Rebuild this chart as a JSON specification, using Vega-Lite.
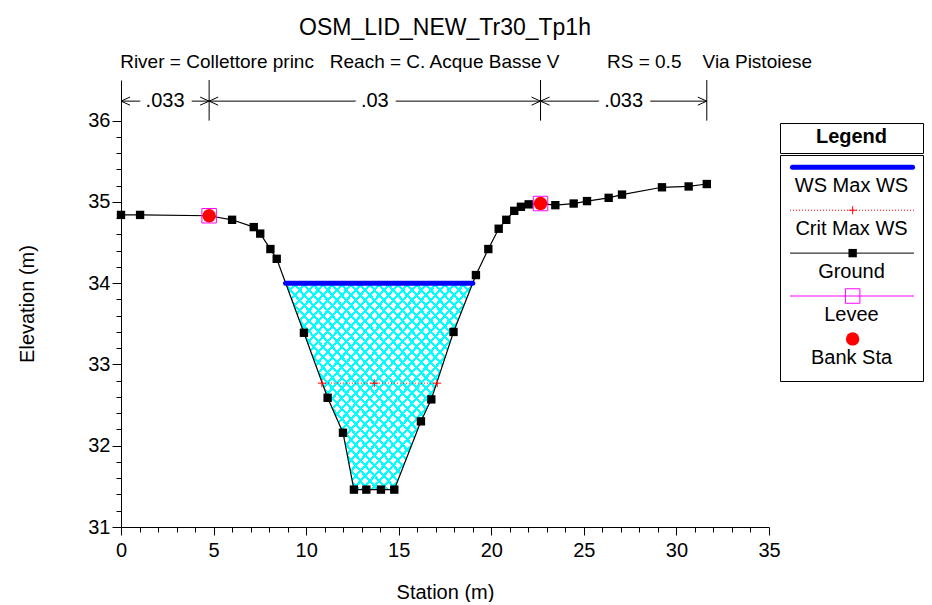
{
  "$schema": "https://vega.github.io/schema/vega-lite/v6.json",
  "padding": {"left": 17, "top": 16, "right": 0, "bottom": 0},
  "background": "white",
  "config": {
    "font": "Liberation Sans",
    "view": {"stroke": null},
    "axis": {"grid": false, "domainColor": "black", "tickColor": "black", "labelColor": "black", "titleColor": "black", "labelFont": "Liberation Sans", "titleFont": "Liberation Sans", "titleFontWeight": "normal", "labelFontSize": 20, "titleFontSize": 20, "domainWidth": 1, "tickWidth": 1}
  },
  "datasets": {
    "ground": [
      {"s": 0, "e": 34.84}, {"s": 1.03, "e": 34.84}, {"s": 4.76, "e": 34.83}, {"s": 6.0, "e": 34.78},
      {"s": 7.17, "e": 34.69}, {"s": 7.52, "e": 34.61}, {"s": 8.07, "e": 34.42}, {"s": 8.41, "e": 34.30},
      {"s": 9.88, "e": 33.39}, {"s": 11.16, "e": 32.59}, {"s": 11.99, "e": 32.16}, {"s": 12.58, "e": 31.46},
      {"s": 13.25, "e": 31.46}, {"s": 14.04, "e": 31.46}, {"s": 14.76, "e": 31.46}, {"s": 16.20, "e": 32.30},
      {"s": 16.76, "e": 32.57}, {"s": 17.96, "e": 33.40}, {"s": 19.17, "e": 34.10}, {"s": 19.84, "e": 34.42},
      {"s": 20.40, "e": 34.67}, {"s": 20.81, "e": 34.78}, {"s": 21.24, "e": 34.89}, {"s": 21.60, "e": 34.94},
      {"s": 22.02, "e": 34.97}, {"s": 22.66, "e": 34.98}, {"s": 23.46, "e": 34.96}, {"s": 24.45, "e": 34.98},
      {"s": 25.17, "e": 35.01}, {"s": 26.34, "e": 35.05}, {"s": 27.06, "e": 35.09}, {"s": 29.22, "e": 35.18},
      {"s": 30.66, "e": 35.19}, {"s": 31.64, "e": 35.22}
    ],
    "water": [
      {"s": 8.89, "e": 34.0}, {"s": 9.88, "e": 33.39}, {"s": 11.16, "e": 32.59}, {"s": 11.99, "e": 32.16},
      {"s": 12.58, "e": 31.46}, {"s": 13.25, "e": 31.46}, {"s": 14.04, "e": 31.46}, {"s": 14.76, "e": 31.46},
      {"s": 16.20, "e": 32.30}, {"s": 16.76, "e": 32.57}, {"s": 17.96, "e": 33.40}, {"s": 19.0, "e": 34.0}
    ],
    "ws": [{"s": 8.89, "s2": 19.0, "e": 34.0}],
    "crit": [{"s": 10.85, "e": 32.77}, {"s": 13.68, "e": 32.77}, {"s": 17.08, "e": 32.77}],
    "banks": [{"s": 4.76, "e": 34.83}, {"s": 22.66, "e": 34.98}],
    "sections": [
      {"s": 0, "s2": 4.76, "mid": 2.38, "n": ".033"},
      {"s": 4.76, "s2": 22.66, "mid": 13.71, "n": ".03"},
      {"s": 22.66, "s2": 31.64, "mid": 27.15, "n": ".033"}
    ],
    "legend": [
      {"row": 1, "item": "WS Max WS"},
      {"row": 2, "item": "Crit Max WS"},
      {"row": 3, "item": "Ground"},
      {"row": 4, "item": "Levee"},
      {"row": 5, "item": "Bank Sta"}
    ]
  },
  "bounds": "flush",
  "spacing": 11,
  "hconcat": [
    {
      "width": 648,
      "height": 447,
      "title": {
        "text": "OSM_LID_NEW_Tr30_Tp1h",
        "subtitle": "\u200b\u00a0\u00a0\u00a0\u00a0\u00a0\u00a0\u00a0\u00a0River = Collettore princ\u00a0\u00a0\u00a0Reach = C. Acque Basse V\u00a0\u00a0\u00a0\u00a0\u00a0\u00a0\u00a0\u00a0\u00a0RS = 0.5\u00a0\u00a0\u00a0\u00a0Via Pistoiese",
        "anchor": "middle", "frame": "group",
        "font": "Liberation Sans", "fontSize": 23, "fontWeight": "normal", "color": "black",
        "subtitleFont": "Liberation Sans", "subtitleFontSize": 19, "subtitleColor": "black",
        "subtitlePadding": 13, "offset": 8
      },
      "encoding": {
        "x": {"type": "quantitative", "scale": {"domain": [0, 35], "nice": false, "zero": false},
          "axis": {"values": [0,1,2,3,4,5,6,7,8,9,10,11,12,13,14,15,16,17,18,19,20,21,22,23,24,25,26,27,28,29,30,31,32,33,34,35],
            "labelExpr": "datum.value % 5 == 0 ? datum.label : ''",
            "tickSize": {"condition": {"test": "datum.value % 5 == 0", "value": 8}, "value": 5},
            "title": "Station (m)", "titlePadding": 22, "labelPadding": 5,
            "labelOverlap": false, "labelFlush": false, "labelBound": false}},
        "y": {"type": "quantitative", "scale": {"domain": [31, 36.5], "nice": false, "zero": false},
          "axis": {"values": [31,31.2,31.4,31.6,31.8,32,32.2,32.4,32.6,32.8,33,33.2,33.4,33.6,33.8,34,34.2,34.4,34.6,34.8,35,35.2,35.4,35.6,35.8,36],
            "labelExpr": "abs(datum.value - round(datum.value)) < 0.01 ? format(datum.value, 'd') : ''",
            "tickSize": {"condition": {"test": "abs(datum.value - round(datum.value)) < 0.01", "value": 9}, "value": 5},
            "title": "Elevation (m)", "titlePadding": 50, "labelPadding": 2,
            "labelOverlap": false, "labelFlush": false, "labelBound": false}}
      },
      "layer": [
        {"data": {"name": "water"}, "mark": {"type": "area", "fill": {"gradient": "linear", "x1": 0, "y1": 0, "x2": 1, "y2": 1, "stops": [
          {"offset":0,"color":"#00ffff"},{"offset":0.008,"color":"#00ffff"},{"offset":0.008,"color":"transparent"},{"offset":0.025,"color":"transparent"},
          {"offset":0.025,"color":"#00ffff"},{"offset":0.033,"color":"#00ffff"},{"offset":0.033,"color":"transparent"},{"offset":0.05,"color":"transparent"},
          {"offset":0.05,"color":"#00ffff"},{"offset":0.058,"color":"#00ffff"},{"offset":0.058,"color":"transparent"},{"offset":0.075,"color":"transparent"},
          {"offset":0.075,"color":"#00ffff"},{"offset":0.083,"color":"#00ffff"},{"offset":0.083,"color":"transparent"},{"offset":0.1,"color":"transparent"},
          {"offset":0.1,"color":"#00ffff"},{"offset":0.108,"color":"#00ffff"},{"offset":0.108,"color":"transparent"},{"offset":0.125,"color":"transparent"},
          {"offset":0.125,"color":"#00ffff"},{"offset":0.133,"color":"#00ffff"},{"offset":0.133,"color":"transparent"},{"offset":0.15,"color":"transparent"},
          {"offset":0.15,"color":"#00ffff"},{"offset":0.158,"color":"#00ffff"},{"offset":0.158,"color":"transparent"},{"offset":0.175,"color":"transparent"},
          {"offset":0.175,"color":"#00ffff"},{"offset":0.183,"color":"#00ffff"},{"offset":0.183,"color":"transparent"},{"offset":0.2,"color":"transparent"},
          {"offset":0.2,"color":"#00ffff"},{"offset":0.208,"color":"#00ffff"},{"offset":0.208,"color":"transparent"},{"offset":0.225,"color":"transparent"},
          {"offset":0.225,"color":"#00ffff"},{"offset":0.233,"color":"#00ffff"},{"offset":0.233,"color":"transparent"},{"offset":0.25,"color":"transparent"},
          {"offset":0.25,"color":"#00ffff"},{"offset":0.258,"color":"#00ffff"},{"offset":0.258,"color":"transparent"},{"offset":0.275,"color":"transparent"},
          {"offset":0.275,"color":"#00ffff"},{"offset":0.283,"color":"#00ffff"},{"offset":0.283,"color":"transparent"},{"offset":0.3,"color":"transparent"},
          {"offset":0.3,"color":"#00ffff"},{"offset":0.308,"color":"#00ffff"},{"offset":0.308,"color":"transparent"},{"offset":0.325,"color":"transparent"},
          {"offset":0.325,"color":"#00ffff"},{"offset":0.333,"color":"#00ffff"},{"offset":0.333,"color":"transparent"},{"offset":0.35,"color":"transparent"},
          {"offset":0.35,"color":"#00ffff"},{"offset":0.358,"color":"#00ffff"},{"offset":0.358,"color":"transparent"},{"offset":0.375,"color":"transparent"},
          {"offset":0.375,"color":"#00ffff"},{"offset":0.383,"color":"#00ffff"},{"offset":0.383,"color":"transparent"},{"offset":0.4,"color":"transparent"},
          {"offset":0.4,"color":"#00ffff"},{"offset":0.408,"color":"#00ffff"},{"offset":0.408,"color":"transparent"},{"offset":0.425,"color":"transparent"},
          {"offset":0.425,"color":"#00ffff"},{"offset":0.433,"color":"#00ffff"},{"offset":0.433,"color":"transparent"},{"offset":0.45,"color":"transparent"},
          {"offset":0.45,"color":"#00ffff"},{"offset":0.458,"color":"#00ffff"},{"offset":0.458,"color":"transparent"},{"offset":0.475,"color":"transparent"},
          {"offset":0.475,"color":"#00ffff"},{"offset":0.483,"color":"#00ffff"},{"offset":0.483,"color":"transparent"},{"offset":0.5,"color":"transparent"},
          {"offset":0.5,"color":"#00ffff"},{"offset":0.508,"color":"#00ffff"},{"offset":0.508,"color":"transparent"},{"offset":0.525,"color":"transparent"},
          {"offset":0.525,"color":"#00ffff"},{"offset":0.533,"color":"#00ffff"},{"offset":0.533,"color":"transparent"},{"offset":0.55,"color":"transparent"},
          {"offset":0.55,"color":"#00ffff"},{"offset":0.558,"color":"#00ffff"},{"offset":0.558,"color":"transparent"},{"offset":0.575,"color":"transparent"},
          {"offset":0.575,"color":"#00ffff"},{"offset":0.583,"color":"#00ffff"},{"offset":0.583,"color":"transparent"},{"offset":0.6,"color":"transparent"},
          {"offset":0.6,"color":"#00ffff"},{"offset":0.608,"color":"#00ffff"},{"offset":0.608,"color":"transparent"},{"offset":0.625,"color":"transparent"},
          {"offset":0.625,"color":"#00ffff"},{"offset":0.633,"color":"#00ffff"},{"offset":0.633,"color":"transparent"},{"offset":0.65,"color":"transparent"},
          {"offset":0.65,"color":"#00ffff"},{"offset":0.658,"color":"#00ffff"},{"offset":0.658,"color":"transparent"},{"offset":0.675,"color":"transparent"},
          {"offset":0.675,"color":"#00ffff"},{"offset":0.683,"color":"#00ffff"},{"offset":0.683,"color":"transparent"},{"offset":0.7,"color":"transparent"},
          {"offset":0.7,"color":"#00ffff"},{"offset":0.708,"color":"#00ffff"},{"offset":0.708,"color":"transparent"},{"offset":0.725,"color":"transparent"},
          {"offset":0.725,"color":"#00ffff"},{"offset":0.733,"color":"#00ffff"},{"offset":0.733,"color":"transparent"},{"offset":0.75,"color":"transparent"},
          {"offset":0.75,"color":"#00ffff"},{"offset":0.758,"color":"#00ffff"},{"offset":0.758,"color":"transparent"},{"offset":0.775,"color":"transparent"},
          {"offset":0.775,"color":"#00ffff"},{"offset":0.783,"color":"#00ffff"},{"offset":0.783,"color":"transparent"},{"offset":0.8,"color":"transparent"},
          {"offset":0.8,"color":"#00ffff"},{"offset":0.808,"color":"#00ffff"},{"offset":0.808,"color":"transparent"},{"offset":0.825,"color":"transparent"},
          {"offset":0.825,"color":"#00ffff"},{"offset":0.833,"color":"#00ffff"},{"offset":0.833,"color":"transparent"},{"offset":0.85,"color":"transparent"},
          {"offset":0.85,"color":"#00ffff"},{"offset":0.858,"color":"#00ffff"},{"offset":0.858,"color":"transparent"},{"offset":0.875,"color":"transparent"},
          {"offset":0.875,"color":"#00ffff"},{"offset":0.883,"color":"#00ffff"},{"offset":0.883,"color":"transparent"},{"offset":0.9,"color":"transparent"},
          {"offset":0.9,"color":"#00ffff"},{"offset":0.908,"color":"#00ffff"},{"offset":0.908,"color":"transparent"},{"offset":0.925,"color":"transparent"},
          {"offset":0.925,"color":"#00ffff"},{"offset":0.933,"color":"#00ffff"},{"offset":0.933,"color":"transparent"},{"offset":0.95,"color":"transparent"},
          {"offset":0.95,"color":"#00ffff"},{"offset":0.958,"color":"#00ffff"},{"offset":0.958,"color":"transparent"},{"offset":0.975,"color":"transparent"},
          {"offset":0.975,"color":"#00ffff"},{"offset":0.983,"color":"#00ffff"},{"offset":0.983,"color":"transparent"},{"offset":1,"color":"transparent"}
        ]}}, "encoding": {"x": {"field": "s"}, "y": {"field": "e"}, "y2": {"datum": 34}}},
        {"data": {"name": "water"}, "mark": {"type": "area", "fill": {"gradient": "linear", "x1": 1, "y1": 0, "x2": 0, "y2": 1, "stops": [
          {"offset":0,"color":"#00ffff"},{"offset":0.008,"color":"#00ffff"},{"offset":0.008,"color":"transparent"},{"offset":0.025,"color":"transparent"},
          {"offset":0.025,"color":"#00ffff"},{"offset":0.033,"color":"#00ffff"},{"offset":0.033,"color":"transparent"},{"offset":0.05,"color":"transparent"},
          {"offset":0.05,"color":"#00ffff"},{"offset":0.058,"color":"#00ffff"},{"offset":0.058,"color":"transparent"},{"offset":0.075,"color":"transparent"},
          {"offset":0.075,"color":"#00ffff"},{"offset":0.083,"color":"#00ffff"},{"offset":0.083,"color":"transparent"},{"offset":0.1,"color":"transparent"},
          {"offset":0.1,"color":"#00ffff"},{"offset":0.108,"color":"#00ffff"},{"offset":0.108,"color":"transparent"},{"offset":0.125,"color":"transparent"},
          {"offset":0.125,"color":"#00ffff"},{"offset":0.133,"color":"#00ffff"},{"offset":0.133,"color":"transparent"},{"offset":0.15,"color":"transparent"},
          {"offset":0.15,"color":"#00ffff"},{"offset":0.158,"color":"#00ffff"},{"offset":0.158,"color":"transparent"},{"offset":0.175,"color":"transparent"},
          {"offset":0.175,"color":"#00ffff"},{"offset":0.183,"color":"#00ffff"},{"offset":0.183,"color":"transparent"},{"offset":0.2,"color":"transparent"},
          {"offset":0.2,"color":"#00ffff"},{"offset":0.208,"color":"#00ffff"},{"offset":0.208,"color":"transparent"},{"offset":0.225,"color":"transparent"},
          {"offset":0.225,"color":"#00ffff"},{"offset":0.233,"color":"#00ffff"},{"offset":0.233,"color":"transparent"},{"offset":0.25,"color":"transparent"},
          {"offset":0.25,"color":"#00ffff"},{"offset":0.258,"color":"#00ffff"},{"offset":0.258,"color":"transparent"},{"offset":0.275,"color":"transparent"},
          {"offset":0.275,"color":"#00ffff"},{"offset":0.283,"color":"#00ffff"},{"offset":0.283,"color":"transparent"},{"offset":0.3,"color":"transparent"},
          {"offset":0.3,"color":"#00ffff"},{"offset":0.308,"color":"#00ffff"},{"offset":0.308,"color":"transparent"},{"offset":0.325,"color":"transparent"},
          {"offset":0.325,"color":"#00ffff"},{"offset":0.333,"color":"#00ffff"},{"offset":0.333,"color":"transparent"},{"offset":0.35,"color":"transparent"},
          {"offset":0.35,"color":"#00ffff"},{"offset":0.358,"color":"#00ffff"},{"offset":0.358,"color":"transparent"},{"offset":0.375,"color":"transparent"},
          {"offset":0.375,"color":"#00ffff"},{"offset":0.383,"color":"#00ffff"},{"offset":0.383,"color":"transparent"},{"offset":0.4,"color":"transparent"},
          {"offset":0.4,"color":"#00ffff"},{"offset":0.408,"color":"#00ffff"},{"offset":0.408,"color":"transparent"},{"offset":0.425,"color":"transparent"},
          {"offset":0.425,"color":"#00ffff"},{"offset":0.433,"color":"#00ffff"},{"offset":0.433,"color":"transparent"},{"offset":0.45,"color":"transparent"},
          {"offset":0.45,"color":"#00ffff"},{"offset":0.458,"color":"#00ffff"},{"offset":0.458,"color":"transparent"},{"offset":0.475,"color":"transparent"},
          {"offset":0.475,"color":"#00ffff"},{"offset":0.483,"color":"#00ffff"},{"offset":0.483,"color":"transparent"},{"offset":0.5,"color":"transparent"},
          {"offset":0.5,"color":"#00ffff"},{"offset":0.508,"color":"#00ffff"},{"offset":0.508,"color":"transparent"},{"offset":0.525,"color":"transparent"},
          {"offset":0.525,"color":"#00ffff"},{"offset":0.533,"color":"#00ffff"},{"offset":0.533,"color":"transparent"},{"offset":0.55,"color":"transparent"},
          {"offset":0.55,"color":"#00ffff"},{"offset":0.558,"color":"#00ffff"},{"offset":0.558,"color":"transparent"},{"offset":0.575,"color":"transparent"},
          {"offset":0.575,"color":"#00ffff"},{"offset":0.583,"color":"#00ffff"},{"offset":0.583,"color":"transparent"},{"offset":0.6,"color":"transparent"},
          {"offset":0.6,"color":"#00ffff"},{"offset":0.608,"color":"#00ffff"},{"offset":0.608,"color":"transparent"},{"offset":0.625,"color":"transparent"},
          {"offset":0.625,"color":"#00ffff"},{"offset":0.633,"color":"#00ffff"},{"offset":0.633,"color":"transparent"},{"offset":0.65,"color":"transparent"},
          {"offset":0.65,"color":"#00ffff"},{"offset":0.658,"color":"#00ffff"},{"offset":0.658,"color":"transparent"},{"offset":0.675,"color":"transparent"},
          {"offset":0.675,"color":"#00ffff"},{"offset":0.683,"color":"#00ffff"},{"offset":0.683,"color":"transparent"},{"offset":0.7,"color":"transparent"},
          {"offset":0.7,"color":"#00ffff"},{"offset":0.708,"color":"#00ffff"},{"offset":0.708,"color":"transparent"},{"offset":0.725,"color":"transparent"},
          {"offset":0.725,"color":"#00ffff"},{"offset":0.733,"color":"#00ffff"},{"offset":0.733,"color":"transparent"},{"offset":0.75,"color":"transparent"},
          {"offset":0.75,"color":"#00ffff"},{"offset":0.758,"color":"#00ffff"},{"offset":0.758,"color":"transparent"},{"offset":0.775,"color":"transparent"},
          {"offset":0.775,"color":"#00ffff"},{"offset":0.783,"color":"#00ffff"},{"offset":0.783,"color":"transparent"},{"offset":0.8,"color":"transparent"},
          {"offset":0.8,"color":"#00ffff"},{"offset":0.808,"color":"#00ffff"},{"offset":0.808,"color":"transparent"},{"offset":0.825,"color":"transparent"},
          {"offset":0.825,"color":"#00ffff"},{"offset":0.833,"color":"#00ffff"},{"offset":0.833,"color":"transparent"},{"offset":0.85,"color":"transparent"},
          {"offset":0.85,"color":"#00ffff"},{"offset":0.858,"color":"#00ffff"},{"offset":0.858,"color":"transparent"},{"offset":0.875,"color":"transparent"},
          {"offset":0.875,"color":"#00ffff"},{"offset":0.883,"color":"#00ffff"},{"offset":0.883,"color":"transparent"},{"offset":0.9,"color":"transparent"},
          {"offset":0.9,"color":"#00ffff"},{"offset":0.908,"color":"#00ffff"},{"offset":0.908,"color":"transparent"},{"offset":0.925,"color":"transparent"},
          {"offset":0.925,"color":"#00ffff"},{"offset":0.933,"color":"#00ffff"},{"offset":0.933,"color":"transparent"},{"offset":0.95,"color":"transparent"},
          {"offset":0.95,"color":"#00ffff"},{"offset":0.958,"color":"#00ffff"},{"offset":0.958,"color":"transparent"},{"offset":0.975,"color":"transparent"},
          {"offset":0.975,"color":"#00ffff"},{"offset":0.983,"color":"#00ffff"},{"offset":0.983,"color":"transparent"},{"offset":1,"color":"transparent"}
        ]}}, "encoding": {"x": {"field": "s"}, "y": {"field": "e"}, "y2": {"datum": 34}}},
        {"data": {"name": "ground"}, "mark": {"type": "line", "color": "black", "strokeWidth": 1.2},
          "encoding": {"x": {"field": "s"}, "y": {"field": "e"}}},
        {"data": {"name": "ws"}, "mark": {"type": "rule", "color": "#0000ff", "strokeWidth": 5, "strokeCap": "round"},
          "encoding": {"x": {"field": "s"}, "x2": {"field": "s2"}, "y": {"field": "e"}}},
        {"data": {"name": "crit"}, "mark": {"type": "line", "color": "#ff0000", "strokeWidth": 1, "strokeDash": [1, 2]},
          "encoding": {"x": {"field": "s"}, "y": {"field": "e"}}},
        {"data": {"name": "crit"}, "mark": {"type": "point", "shape": "M -1 0 L 1 0 M 0 -1 L 0 1", "filled": false, "stroke": "#ff0000", "strokeWidth": 1, "size": 64, "opacity": 1},
          "encoding": {"x": {"field": "s"}, "y": {"field": "e"}}},
        {"data": {"name": "ground"}, "mark": {"type": "point", "shape": "square", "filled": true, "color": "black", "size": 70, "opacity": 1},
          "encoding": {"x": {"field": "s"}, "y": {"field": "e"}}},
        {"data": {"name": "banks"}, "mark": {"type": "point", "shape": "square", "filled": false, "stroke": "#ff00ff", "strokeWidth": 1, "size": 210, "opacity": 1},
          "encoding": {"x": {"field": "s"}, "y": {"field": "e"}}},
        {"data": {"name": "banks"}, "mark": {"type": "point", "shape": "circle", "filled": true, "color": "#ff0000", "size": 180, "opacity": 1},
          "encoding": {"x": {"field": "s"}, "y": {"field": "e"}}},
        {"data": {"name": "sections"}, "mark": {"type": "rule", "color": "black", "strokeWidth": 1},
          "encoding": {"x": {"field": "s2"}, "y": {"datum": 36}, "y2": {"datum": 36.5}}},
        {"data": {"name": "sections"}, "mark": {"type": "rule", "color": "black", "strokeWidth": 1},
          "encoding": {"x": {"field": "s"}, "x2": {"field": "s2"}, "y": {"datum": 36.24}}},
        {"data": {"name": "sections"}, "mark": {"type": "point", "shape": "M 1 -0.45 L 0 0 L 1 0.45", "filled": false, "stroke": "black", "strokeWidth": 1, "size": 324, "opacity": 1},
          "encoding": {"x": {"field": "s"}, "y": {"datum": 36.24}}},
        {"data": {"name": "sections"}, "mark": {"type": "point", "shape": "M -1 -0.45 L 0 0 L -1 0.45", "filled": false, "stroke": "black", "strokeWidth": 1, "size": 324, "opacity": 1},
          "encoding": {"x": {"field": "s2"}, "y": {"datum": 36.24}}},
        {"data": {"name": "sections"}, "mark": {"type": "text", "fontSize": 20, "color": "white", "stroke": "white", "strokeWidth": 16, "strokeJoin": "round", "baseline": "middle", "align": "center"},
          "encoding": {"x": {"field": "mid"}, "y": {"datum": 36.24}, "text": {"field": "n"}}},
        {"data": {"name": "sections"}, "mark": {"type": "text", "fontSize": 20, "color": "black", "baseline": "middle", "align": "center"},
          "encoding": {"x": {"field": "mid"}, "y": {"datum": 36.24}, "text": {"field": "n"}}}
      ]
    },
    {
      "spacing": 20,
      "vconcat": [
        {"width": 143, "height": 22, "data": {"values": []}, "mark": "point"},
        {
          "spacing": 0,
          "vconcat": [
            {
              "width": 143, "height": 30,
              "view": {"stroke": "black", "strokeWidth": 1},
              "data": {"values": [{"t": "Legend"}]},
              "mark": {"type": "text", "fontWeight": "bold", "fontSize": 20, "baseline": "middle", "align": "center", "color": "black", "dy": -1},
              "encoding": {
                "x": {"datum": 0.5, "type": "quantitative", "scale": {"domain": [0, 1], "nice": false, "zero": false}, "axis": null},
                "y": {"datum": 0.5, "type": "quantitative", "scale": {"domain": [0, 1], "nice": false, "zero": false}, "axis": null},
                "text": {"field": "t"}
              }
            },
            {
              "width": 143, "height": 226,
              "view": {"stroke": "black", "strokeWidth": 1},
              "data": {"name": "legend"},
              "encoding": {
                "y": {"field": "row", "type": "quantitative", "scale": {"domain": [0.713, 5.981], "reverse": true, "nice": false, "zero": false}, "axis": null}
              },
              "layer": [
                {"transform": [{"filter": "datum.row == 1"}], "mark": {"type": "rule", "color": "#0000ff", "strokeWidth": 5, "strokeCap": "round"},
                  "encoding": {"x": {"datum": 0.087, "type": "quantitative", "scale": {"domain": [0, 1], "nice": false, "zero": false}, "axis": null}, "x2": {"datum": 0.927}}},
                {"transform": [{"filter": "datum.row == 2"}], "mark": {"type": "rule", "color": "#ff0000", "strokeWidth": 1, "strokeDash": [1, 2]},
                  "encoding": {"x": {"datum": 0.07, "type": "quantitative", "scale": {"domain": [0, 1], "nice": false, "zero": false}, "axis": null}, "x2": {"datum": 0.937}}},
                {"transform": [{"filter": "datum.row == 2"}], "mark": {"type": "point", "shape": "M -1 0 L 1 0 M 0 -1 L 0 1", "filled": false, "stroke": "#ff0000", "strokeWidth": 1, "size": 64, "opacity": 1},
                  "encoding": {"x": {"datum": 0.508, "type": "quantitative"}}},
                {"transform": [{"filter": "datum.row == 3"}], "mark": {"type": "rule", "color": "black", "strokeWidth": 1},
                  "encoding": {"x": {"datum": 0.07, "type": "quantitative"}, "x2": {"datum": 0.937}}},
                {"transform": [{"filter": "datum.row == 3"}], "mark": {"type": "point", "shape": "square", "filled": true, "color": "black", "size": 70, "opacity": 1},
                  "encoding": {"x": {"datum": 0.508, "type": "quantitative"}}},
                {"transform": [{"filter": "datum.row == 4"}], "mark": {"type": "rule", "color": "#ff00ff", "strokeWidth": 1},
                  "encoding": {"x": {"datum": 0.07, "type": "quantitative"}, "x2": {"datum": 0.937}}},
                {"transform": [{"filter": "datum.row == 4"}], "mark": {"type": "point", "shape": "square", "filled": false, "stroke": "#ff00ff", "strokeWidth": 1, "size": 210, "opacity": 1},
                  "encoding": {"x": {"datum": 0.508, "type": "quantitative"}}},
                {"transform": [{"filter": "datum.row == 5"}], "mark": {"type": "point", "shape": "circle", "filled": true, "color": "#ff0000", "size": 180, "opacity": 1},
                  "encoding": {"x": {"datum": 0.508, "type": "quantitative"}}},
                {"mark": {"type": "text", "fontSize": 20, "color": "black", "baseline": "middle", "align": "center", "dy": 18.6},
                  "encoding": {"x": {"datum": 0.5, "type": "quantitative"}, "text": {"field": "item"}}}
              ]
            }
          ]
        }
      ]
    }
  ]
}
